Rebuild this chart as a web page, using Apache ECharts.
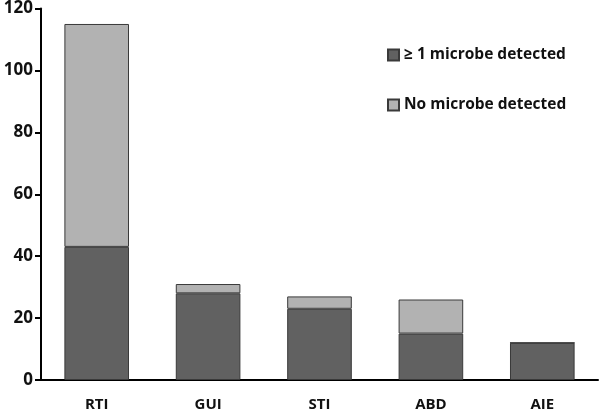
<!DOCTYPE html>
<html>
<head>
<meta charset="utf-8">
<script src="https://cdn.jsdelivr.net/npm/echarts@6/dist/echarts.min.js"></script>
<style>
  html, body { margin: 0; padding: 0; background: #fff; }
  #chart { width: 600px; height: 413px; }
</style>
</head>
<body>
<div id="chart"></div>
<script>
// Data
const categories = ['RTI', 'GUI', 'STI', 'ABD', 'AIE']
const detected = [43, 28, 23, 15, 12]
const notDetected = [72, 3, 4, 11, 0]
const seriesNames = ['\u2265 1 microbe detected', 'No microbe detected']

const font = '"Open Sans", "DejaVu Sans", sans-serif'

const chart = echarts.init(document.getElementById('chart'))

const options = {
    animation: false,
    grid: { left: 41, right: 2, top: 7, bottom: 33 },
    legend: {
        orient: 'vertical',
        left: 382,
        top: 42,
        itemGap: 34,
        itemWidth: 11,
        itemHeight: 11,
        textStyle: { fontFamily: font, fontWeight: 'bold', fontSize: 15.5, color: '#111' },
        data: seriesNames.map(n => ({ name: n, icon: 'rect' }))
    },
    xAxis: {
        type: 'category',
        data: categories,
        axisLine: { lineStyle: { color: '#000', width: 2 } },
        axisTick: { show: false },
        axisLabel: { fontFamily: font, fontWeight: 'bold', fontSize: 15, color: '#111', margin: 17 }
    },
    yAxis: {
        type: 'value',
        min: 0,
        max: 120,
        interval: 20,
        axisLine: { show: true, lineStyle: { color: '#000', width: 2 } },
        axisTick: { show: true, length: 6, lineStyle: { color: '#000', width: 2 } },
        splitLine: { show: false },
        axisLabel: { fontFamily: font, fontWeight: 'bold', fontSize: 17, color: '#111', margin: 8 }
    },
    series: [
        {
            name: seriesNames[0],
            type: 'bar',
            stack: 'total',
            barWidth: '58%',
            data: detected,
            itemStyle: { color: '#616161', borderColor: '#3a3a3a', borderWidth: 1 }
        },
        {
            name: seriesNames[1],
            type: 'bar',
            stack: 'total',
            barWidth: '58%',
            data: notDetected,
            itemStyle: { color: '#b2b2b2', borderColor: '#3a3a3a', borderWidth: 1 }
        }
    ]
}
chart.setOption(options)
</script>
</body>
</html>
